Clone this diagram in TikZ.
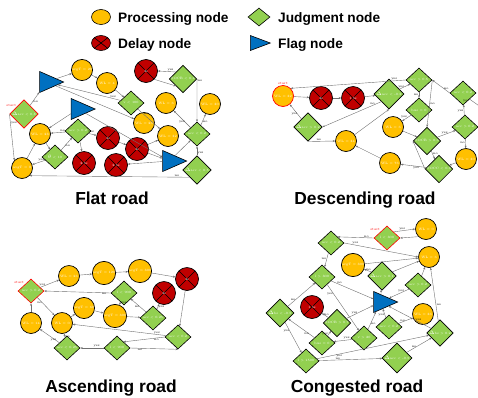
\documentclass[tikz,border=0pt]{standalone}
\usepackage{fontspec}
\usetikzlibrary{shapes.geometric,arrows.meta}
\newfontfamily\legfont{Liberation Sans}
\definecolor{procc}{HTML}{FFC000}
\definecolor{delayc}{HTML}{C00000}
\definecolor{judgec}{HTML}{92D050}
\definecolor{flagc}{HTML}{0070C0}
\definecolor{edgec}{HTML}{707070}
\begin{document}
\begin{tikzpicture}[x=1pt,y=-1pt,
  nt/.style={font=\fontsize{3.2}{3.6}\selectfont, text=white, inner sep=0.3pt},
  xcross/.style={path picture={\draw[black,line width=0.6pt] (path picture bounding box.north west) -- (path picture bounding box.south east) (path picture bounding box.north east) -- (path picture bounding box.south west);}},
  proc/.style={nt, circle, draw=black, line width=0.7pt, fill=procc, minimum size=21pt},
  delay/.style={nt, circle, draw=black, line width=0.7pt, fill=delayc, minimum size=23pt, xcross},
  judge/.style={nt, diamond, draw=black, line width=0.6pt, fill=judgec, minimum width=26pt, minimum height=24pt},
  flag/.style={isosceles triangle, isosceles triangle stretches, draw=black, line width=0.6pt, fill=flagc, minimum width=21pt, minimum height=24pt, inner sep=0pt},
  startj/.style={draw=red},
  ed/.style={draw=edgec, line width=0.4pt, -{Stealth[length=2.4pt,width=2pt]}},
  lbl/.style={font=\fontsize{3.2}{3.6}\selectfont, text=black, inner sep=0.4pt},
  slbl/.style={font=\fontsize{3.4}{4}\selectfont, text=red, inner sep=0.4pt},
  leg/.style={font=\legfont\bfseries\fontsize{13.7}{15}\selectfont, anchor=base west, inner sep=0pt},
  ttl/.style={font=\legfont\bfseries\fontsize{17.4}{19}\selectfont, anchor=base, inner sep=0pt},
]
\useasboundingbox (0,0) rectangle (478,397);

% ---------------- legend ----------------
\node[ellipse, draw=black, line width=0.6pt, fill=procc, minimum width=19pt, minimum height=15pt, inner sep=0pt] (lp) at (101,17) {};
\node[leg] (lpt) at (118,22.3) {Processing node};
\node[diamond, draw=black, line width=0.6pt, fill=judgec, minimum width=22pt, minimum height=18pt, inner sep=0pt] (lj) at (259,17) {};
\node[leg] (ljt) at (278,22.3) {Judgment node};
\node[ellipse, draw=black, line width=0.6pt, fill=delayc, minimum width=19pt, minimum height=15pt, inner sep=0pt, xcross] (ld) at (101,43) {};
\node[leg] (ldt) at (118,48.3) {Delay node};
\node[isosceles triangle, isosceles triangle stretches, draw=black, line width=0.6pt, fill=flagc, minimum width=15pt, minimum height=20pt, inner sep=0pt] (lf) at (255.5,43) {};
\node[leg] (lft) at (278,48.3) {Flag node};

% ---------------- Flat road ----------------
\node[judge,startj,label={[slbl]above left:start}] (fS) at (24,114) {$\Delta$acc < 0.8};
\node[flag] (fT1) at (46.5,82) {};
\node[proc] (fA20) at (82,70) {avgT = 20};
\node[proc] (fW4) at (107,83) {WL = 4};
\node[delay] (fD1) at (146,71) {3s};
\node[judge] (fJ1) at (183,79) {SOCB < 0.4};
\node[judge] (fJ2) at (131,103) {v < 100};
\node[proc] (fW6) at (166,103) {WL = 6};
\node[proc] (fW30) at (210,104) {WL = 30};
\node[flag] (fT2) at (78,109) {};
\node[proc] (fW26) at (144,123) {WL = 26};
\node[proc] (fW23) at (40,134) {WL = 23};
\node[judge] (fJ3) at (78,131) {acc > 0.2};
\node[delay] (fD2) at (108,138) {3s};
\node[delay] (fD3) at (137,149) {3s};
\node[proc] (fW32) at (168,136) {WL = 32};
\node[judge] (fJ4) at (197,134) {acc < 0.2};
\node[judge] (fJ5) at (55,157) {$\theta$ < 10};
\node[delay] (fD4) at (84,163) {2.5s};
\node[delay] (fD5) at (116,165) {2.5s};
\node[flag] (fT3) at (169.5,161) {};
\node[proc] (fA0) at (22,168) {avgT = 0};
\node[judge] (fJ6) at (197,170) {$\Delta$acc < 0.5};

\draw[ed] (fS) -- node[lbl,pos=.3,right]{no} (fT1);
\draw[ed] (fS.west) -- node[lbl,pos=.2,right]{yes} (fA0.north west);
\draw[ed] (fT1) -- (fA20);
\draw[ed] (fA20) -- (fW4);
\draw[ed] (fW4) -- (fJ2);
\draw[ed] (fJ2) -- node[lbl,pos=.12,above]{yes} (fT1);
\draw[ed] (fJ2) -- node[lbl,pos=.25,right]{no} (fW32);
\draw[ed] (fT1) -- (fW26);
\draw[ed] (fT2) -- (fW23);
\draw[ed] (fA0) -- (fW23);
\draw[ed] (fW23) -- (fJ5);
\draw[ed] (fJ5) -- node[lbl,pos=.3,above]{yes} (fA0);
\draw[ed] (fJ5) -- node[lbl,pos=.35,right]{no} (fJ3);
\draw[ed] (fJ3) -- node[lbl,pos=.2,above]{no} (fW23);
\draw[ed] (fJ3) -- node[lbl,pos=.3,above]{yes} (fD2);
\draw[ed] (fJ3) -- (fD4);
\draw[ed] (fD2) -- (fD3);
\draw[ed] (fD3) -- (fT3);
\draw[ed] (fT3) -- (fD5);
\draw[ed] (fT2) -- (fT3);
\draw[ed] (fD3) -- (fW32);
\draw[ed] (fJ6.south west) -- node[lbl,pos=.08,above]{no} (fA0.south east);
\draw[ed] (fJ6) -- node[lbl,pos=.3,right]{yes} (fJ4);
\draw[ed] (fJ4) -- node[lbl,pos=.3,left]{yes} (fW6);
\draw[ed] (fJ4) -- node[lbl,pos=.3,right]{no} (fW30);
\draw[ed] (fJ1.north west) -- node[lbl,pos=.3,above]{yes} (fD1.east);
\draw[ed] (fD1.south east) -- (fJ1.south west);
\draw[ed] (fJ1.east) -- node[lbl,pos=.05,right]{no} (fJ4.north);
\draw[ed] (fT3) -- (fJ4);

\node[ttl] (tflat) at (112,204) {Flat road};

% ---------------- Descending road ----------------
\node[proc,draw=red,label={[slbl]above:start}] (dS) at (283,96) {WL = 32};
\node[delay] (dD1) at (321,98) {3s};
\node[delay] (dD2) at (353,98) {1.5s};
\node[judge] (dJ1) at (389,94) {$\Delta$acc < -0.2};
\node[judge] (dJ2) at (419,80) {acc > 0.5};
\node[judge] (dJ3) at (419,110) {bus = 0};
\node[judge] (dJ4) at (308,127) {$\Delta$acc > 0.2};
\node[proc] (dW34) at (346,141) {WL = 34};
\node[proc] (dW6) at (393,127) {WL = 6};
\node[judge] (dJ5) at (427,141) {SOCB > 0.6};
\node[proc] (dW76) at (390,163) {WL = 76};
\node[judge] (dJ6) at (439,169) {SOCC < 0.3};
\node[judge] (dJ7) at (463,93) {acc < 0.2};
\node[judge] (dJ8) at (465,127) {acc > 0.2};
\node[proc] (dWR) at (466,159) {WL = 30};
\coordinate (dOut) at (482,108);

\draw[ed] (dJ2.west) -- node[lbl,pos=.1,above]{yes} (dS.north east);
\draw[ed] (dS) -- (dD1);
\draw[ed] (dD1) -- (dD2);
\draw[ed] (dD2) -- (dJ1);
\draw[ed] (dJ1) -- node[lbl,pos=.5,left]{yes} (dJ2);
\draw[ed] (dJ1.south west) -- node[lbl,pos=.1,left]{no} (dJ4.east);
\draw[ed] (dJ4) -- node[lbl,pos=.3,left]{yes} (dS);
\draw[ed] (dJ4.south) -- node[lbl,pos=.4,above]{no} (dW34.west);
\draw[ed] (dW34) -- (dJ1.south);
\draw[ed] (dW76) -- (dW34);
\draw[ed] (dJ2) -- node[lbl,pos=.4,left]{no} (dJ3);
\draw[ed] (dJ3) -- node[lbl,pos=.4,left]{yes} (dW6);
\draw[ed] (dJ7.west) -- node[lbl,pos=.2,above]{no} (dJ2.east);
\draw[ed] (dJ2.east) -- node[lbl,pos=.5,right]{no} (dJ5.north);
\draw[ed] (dW6) -- (dJ5);
\draw[ed] (dJ5) -- node[lbl,pos=.4,above]{yes} (dJ8);
\draw[ed] (dJ8) -- node[lbl,pos=.4,left]{yes} (dJ7);
\draw[ed] (dJ5) -- node[lbl,pos=.4,right]{no} (dJ6);
\draw[ed] (dJ6.west) -- (dJ5.west);
\draw[ed] (dJ6) -- node[lbl,pos=.4,below]{yes} (dW76);
\draw[ed] (dWR) -- (dJ6);
\draw[ed] (dJ8) -- node[lbl,pos=.4,left]{no} (dWR);
\draw[ed] (dJ7.south east) -- node[lbl,pos=0,below left]{yes} (dOut);

\node[ttl] (tdesc) at (365,204) {Descending road};

% ---------------- Ascending road ----------------
\node[judge,startj,label={[slbl]above left:start}] (aS) at (31,291) {acc > 0.2};
\node[proc] (aW26) at (69,276) {WL = 26};
\node[proc] (aA120) at (104,273) {avgT = 120};
\node[proc] (aA300) at (140,271) {avgT = 300};
\node[delay] (aD1) at (187,279) {3s};
\node[delay] (aD2) at (164,293) {3s};
\node[judge] (aJ1) at (124,293) {l < 900};
\node[proc] (aA60) at (84,308) {avgT = 60};
\node[proc] (aA300b) at (115,316) {avgT = 300};
\node[judge] (aJ2) at (153,318) {acc < 0.25};
\node[proc] (aW14) at (31,323) {WL = 14};
\node[proc] (aW0) at (62,323) {WL = 0};
\node[judge] (aJ3) at (178,337) {acc < 0.2};
\node[judge] (aJ4) at (67,348) {acc < 0.25};
\node[judge] (aJ5) at (117,348) {l < 900};

\draw[ed] (aW14) -- (aS);
\draw[ed] (aS) -- node[lbl,pos=.3,left]{yes} (aW26);
\draw[ed] (aW26) -- (aA120);
\draw[ed] (aA120) -- (aA300);
\draw[ed] (aA300) -- (aD1);
\draw[ed] (aD1) -- (aJ3);
\draw[ed] (aS) -- node[lbl,pos=.3,left]{no} (aW0);
\draw[ed] (aJ1.west) -- node[lbl,pos=.1,below]{no} (aS.east);
\draw[ed] (aJ3) -- node[lbl,pos=.1,above]{yes} (aW0);
\draw[ed] (aJ3.west) -- node[lbl,pos=.2,below]{no} (aJ5.north east);
\draw[ed] (aJ5.east) -- node[lbl,pos=.2,below]{no} (aJ3.south);
\draw[ed] (aJ5) -- node[lbl,pos=.3,above]{yes} (aJ4);
\draw[ed] (aJ4) -- node[lbl,pos=.3,below]{yes} (aW14);
\draw[ed] (aJ4) -- node[lbl,pos=.3,right]{no} (aW0);
\draw[ed] (aW0) -- (aA60);
\draw[ed] (aA60) -- (aA300b);
\draw[ed] (aA300b) -- (aJ2);
\draw[ed] (aJ2) -- node[lbl,pos=.4,right]{yes} (aD2);
\draw[ed] (aJ2) -- node[lbl,pos=.4,left]{no} (aJ1);
\draw[ed] (aJ1) -- node[lbl,pos=.5,right]{yes} (aA300b);

\node[ttl] (tasc) at (111,392.5) {Ascending road};

% ---------------- Congested road ----------------
\node[judge,startj,label={[slbl]above left:start}] (cS) at (387,238) {l < 300};
\node[proc] (cW0) at (426,229) {WL = 0};
\node[proc] (cW6) at (429,257) {WL = 6};
\node[judge] (cJ1) at (331,243) {acc < 0.2};
\node[proc] (cA300) at (353,265) {avgT = 300};
\node[judge] (cJ2) at (382,276) {$\Delta$acc > 0.1};
\node[judge] (cJ3) at (322,277) {l > 300};
\node[judge] (cJ4) at (418,285) {acc > 0.2};
\node[flag] (cT) at (380.5,302) {};
\node[delay] (cD) at (312,307) {1.5s};
\node[judge] (cJ5) at (280,313) {$\Delta$bs < -0.5};
\node[proc] (cW36) at (423,314) {WL = 36};
\node[judge] (cJ6) at (337,323) {SOCB > 0.7};
\node[judge] (cJ7) at (389,327) {acc < 0.2};
\node[judge] (cJ8) at (440,333) {$\Delta$bs > 0.2};
\node[judge] (cJ9) at (322,343) {bus = 0};
\node[judge] (cJ10) at (364,338) {v > 20};
\node[judge] (cJ11) at (306,361) {l > 1500};
\node[judge] (cJ12) at (397,358) {$\Delta$acc < -0.5};

\draw[ed] (cS.north east) -- node[lbl,pos=.4,above]{yes} (cW0.west);
\draw[ed] (cW0.south west) -- (cS.east);
\draw[ed] (cS.west) -- node[lbl,pos=.2,above]{no} (cJ1.north east);
\draw[ed] (cJ1.east) -- node[lbl,pos=.15,above]{yes} (cW6.west);
\draw[ed] (cJ1) -- node[lbl,pos=.4,left]{no} (cJ3);
\draw[ed] (cA300) -- (cW6);
\draw[ed] (cJ2) -- node[lbl,pos=.4,above]{no} (cA300);
\draw[ed] (cJ2) -- (cW6);
\draw[ed] (cT) -- (cJ2);
\draw[ed] (cJ4) -- node[lbl,pos=.4,above]{yes} (cT);
\draw[ed] (cJ4) -- (cW6);
\draw[ed] (cJ3) -- node[lbl,pos=.2,above]{no} (cT);
\draw[ed] (cJ3) -- node[lbl,pos=.2,left]{yes} (cJ10);
\draw[ed] (cJ5) -- node[lbl,pos=.3,left]{no} (cJ3);
\draw[ed] (cJ5) -- node[lbl,pos=.3,left]{yes} (cJ11);
\draw[ed] (cJ11) -- node[lbl,pos=.3,above]{no} (cJ12);
\draw[ed] (cJ11) -- node[lbl,pos=.2,below]{yes} (cJ8);
\draw[ed] (cJ12) -- node[lbl,pos=.3,above]{no} (cJ8);
\draw[ed] (cJ8) -- node[lbl,pos=.3,right]{no} (cW6);
\draw[ed] (cJ8) -- node[lbl,pos=.3,above]{yes} (cT);
\draw[ed] (cJ7) -- node[lbl,pos=.3,above]{no} (cW36);
\draw[ed] (cJ7) -- node[lbl,pos=.3,left]{yes} (cT);
\draw[ed] (cJ6) -- node[lbl,pos=.3,above]{no} (cD);
\draw[ed] (cJ6) -- node[lbl,pos=.3,above]{yes} (cT);
\draw[ed] (cJ9) -- node[lbl,pos=.3,left]{yes} (cJ6);
\draw[ed] (cJ9) -- node[lbl,pos=.3,below]{no} (cJ5);
\draw[ed] (cJ10) -- node[lbl,pos=.3,above]{yes} (cJ9);
\draw[ed] (cJ10) -- node[lbl,pos=.3,right]{no} (cT);

\node[ttl] (tcong) at (357,392.5) {Congested road};
\end{tikzpicture}
\end{document}
